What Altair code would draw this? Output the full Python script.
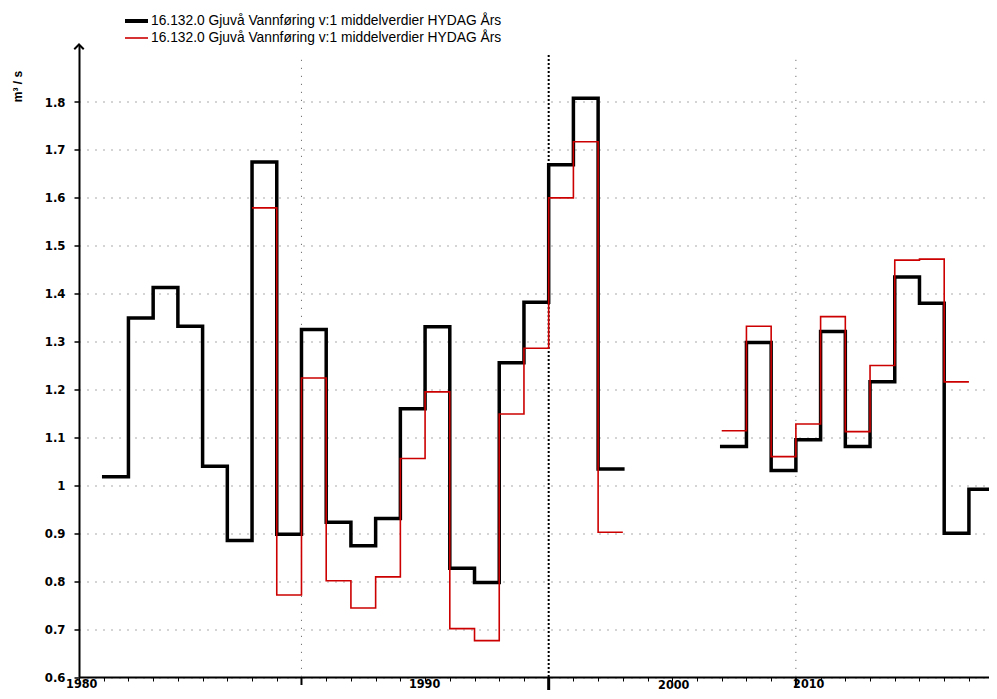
import altair as alt
import pandas as pd

# ---- data (annual mean discharge, m3/s) ----
black_years_a = list(range(1982, 2003))
black_vals_a = [1.018, 1.349, 1.413, 1.332, 1.040, 0.885, 1.675, 0.898, 1.325, 0.923, 0.874,
                0.931, 1.160, 1.331, 0.827, 0.797, 1.256, 1.382, 1.669, 1.808, 1.034]
black_years_b = list(range(2007, 2018))
black_vals_b = [1.081, 1.298, 1.031, 1.095, 1.321, 1.081, 1.216, 1.435, 1.380, 0.900, 0.992]

red_years_a = list(range(1988, 2003))
red_vals_a = [1.579, 0.771, 1.224, 0.801, 0.744, 0.809, 1.056, 1.195, 0.701, 0.676, 1.149,
              1.286, 1.600, 1.717, 0.902]
red_years_b = list(range(2007, 2017))
red_vals_b = [1.114, 1.332, 1.060, 1.128, 1.352, 1.112, 1.250, 1.470, 1.472, 1.216]

y_ticks = [0.6, 0.7, 0.8, 0.9, 1.0, 1.1, 1.2, 1.3, 1.4, 1.5, 1.6, 1.7, 1.8]
x_minor_ticks = list(range(1981, 2018))
x_label_text = ["1980", "1990", "2000", "2010"]
x_label_pos = [1981.11, 1994.98, 2005.06, 2010.52]
x_label_dy = [11, 11, 11.5, 10.5]
grid_years = [1990, 2010]
legend_label = "16.132.0 Gjuvå Vannføring v:1 middelverdier HYDAG Års"
y_unit = "m³ / s"


def steps(years, vals, seg):
    rows = [{"year": y, "v": v, "seg": seg} for y, v in zip(years, vals)]
    rows.append({"year": years[-1] + 1, "v": vals[-1], "seg": seg})
    return rows


black_df = pd.DataFrame(steps(black_years_a, black_vals_a, "a") + steps(black_years_b, black_vals_b, "b"))
red_df = pd.DataFrame(steps(red_years_a, red_vals_a, "a") + steps(red_years_b, red_vals_b, "b"))

W = 910
H = 632.5
NARROW = "Liberation Sans Narrow, DejaVu Sans Condensed, Arial Narrow, sans-serif"

xs = alt.Scale(domain=[1981, 1981 + W / 24.72], nice=False, zero=False)
ys = alt.Scale(domain=[0.6, 1.92], nice=False, zero=False)

x_axis = alt.Axis(values=x_minor_ticks, labels=False, tickSize=4, tickColor="black",
                  tickWidth=1, domainColor="black", domainWidth=2, grid=False, title=None)
y_axis = alt.Axis(values=y_ticks, format="~g", grid=True, gridDash=[1, 7], gridColor="#555",
                  gridWidth=1, tickSize=5, tickColor="black", tickWidth=1.5, labelPadding=9,
                  labelFont=NARROW, labelFontSize=13, labelFontWeight="bold", labelColor="black",
                  domainColor="black", domainWidth=2, title=None)


def X(field):
    return alt.X(field, type="quantitative", scale=xs, axis=x_axis)


def Y(field):
    return alt.Y(field, type="quantitative", scale=ys, axis=y_axis)


# vertical dotted gridlines
vgrid = alt.Chart(pd.DataFrame({"year": grid_years, "top": [1.888, 1.888], "bot": [0.6, 0.6]})).mark_rule(
    color="#555", strokeDash=[1, 7], strokeWidth=1
).encode(x=X("year"), y=Y("top"), y2="bot:Q")

vgrid2000 = alt.Chart(pd.DataFrame({"year": [2000], "top": [1.898], "bot": [0.6]})).mark_rule(
    color="black", strokeDash=[2, 2], strokeWidth=2
).encode(x=X("year"), y=Y("top"), y2="bot:Q")

black_line = alt.Chart(black_df).mark_line(
    interpolate="step-after", color="black", strokeWidth=3.5, strokeJoin="miter", strokeCap="square"
).encode(x=X("year"), y=Y("v"), detail="seg:N")

red_line = alt.Chart(red_df).mark_line(
    interpolate="step-after", color="#cc0000", strokeWidth=1.6
).encode(x=X("year"), y=Y("v"), detail="seg:N")

arrow = alt.Chart(pd.DataFrame({"year": [1981], "v": [1.92]})).mark_point(
    shape="M-1,1L0,0L1,1", size=90, filled=False, color="black", strokeWidth=2, opacity=1
).encode(x=X("year"), y=Y("v"))

major_ticks = alt.Chart(pd.DataFrame({"year": [1990, 2010]})).mark_rule(
    color="black", strokeWidth=2
).encode(x=X("year"), y=alt.value(H), y2=alt.value(H + 8))

major_2000 = alt.Chart(pd.DataFrame({"year": [2000]})).mark_rule(
    color="black", strokeWidth=3
).encode(x=X("year"), y=alt.value(H), y2=alt.value(H + 13))

x_labels = alt.layer(*[
    alt.Chart(pd.DataFrame({"year": [p], "t": [t]})).mark_text(
        font=NARROW, fontSize=12.5, fontWeight="bold", color="black", baseline="alphabetic", align="center"
    ).encode(x=X("year"), y=alt.value(H + dy), text="t:N")
    for p, t, dy in zip(x_label_pos, x_label_text, x_label_dy)
])

unit_title = alt.Chart(pd.DataFrame({"t": [y_unit]})).mark_text(
    font="Liberation Sans, Arial, sans-serif", fontSize=12, fontWeight="bold", color="black",
    angle=270, baseline="middle", align="center"
).encode(x=alt.value(-61), y=alt.value(42), text="t:N")

leg_black = alt.Chart(pd.DataFrame({"a": [0]})).mark_rule(color="black", strokeWidth=4).encode(
    x=alt.value(46), x2=alt.value(69), y=alt.value(-23.5))
leg_red = alt.Chart(pd.DataFrame({"a": [0]})).mark_rule(color="#cc0000", strokeWidth=1.6).encode(
    x=alt.value(46), x2=alt.value(69), y=alt.value(-6.5))
leg_text = alt.Chart(pd.DataFrame({"t": [legend_label, legend_label], "yy": [-23.5, -6.5]})).mark_text(
    font="Liberation Sans, Arial, sans-serif", fontSize=13.8, color="black", align="left", baseline="middle"
).encode(x=alt.value(72), y=alt.Y("yy:Q", scale=None, axis=None), text="t:N")

chart = alt.layer(
    vgrid, vgrid2000, black_line, red_line, arrow, major_ticks, major_2000,
    x_labels, unit_title, leg_black, leg_red, leg_text
).properties(
    width=W, height=H,
    autosize=alt.AutoSizeParams(type="none"),
    padding={"left": 71, "top": 36.5, "right": 0, "bottom": 14},
    background="white",
).configure_view(stroke=None)

chart.save("out.html", embed_options={"renderer": "svg", "actions": False})
